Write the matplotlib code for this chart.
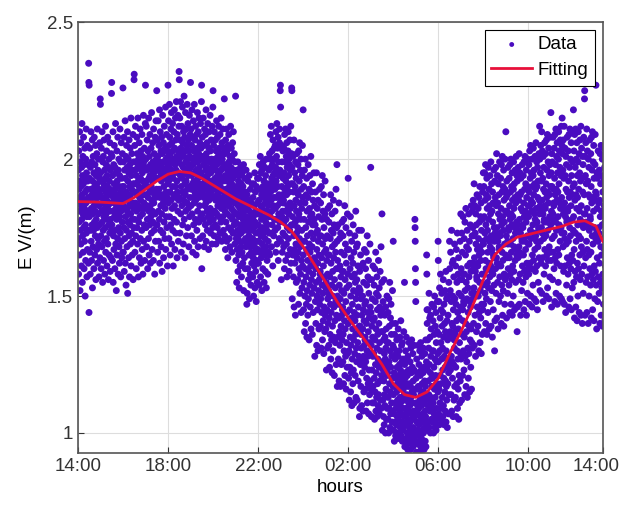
from matplotlib import pyplot as plt
from matplotlib.transforms import ScaledTranslation
import numpy as np

# Field values (V/m x 100), one row per half hour starting at 14:00
rows = [
	"184 171 196 158 203 189 177 165 192 210 181 152 199 186 174 206 169 190 183 161 197 178 213 187 155 194 172 201 180 166 191 208 175 185 160 198 182 170 204 193 150 188 176 163 200 184 211 173 195 179 157 189 205 167 192 181 174 198 186 162 235 228 144 227",
	"179 193 166 204 185 158 197 174 189 210 170 182 163 199 187 176 207 153 192 180 168 201 186 174 195 160 183 208 177 190 165 198 181 172 205 188 156 194 178 184 167 202 191 175 211 162 186 196 171 180 200 169 189 157 183 193 176 206 164 187 222 220",
	"195 172 186 160 204 181 192 168 210 177 189 155 199 184 174 201 163 191 179 207 186 170 196 158 182 193 175 212 166 188 180 198 171 203 185 161 194 178 190 208 169 183 197 156 187 176 200 165 192 181 173 206 189 159 196 178 184 164 202 174 224 228",
	"176 201 188 163 194 181 210 155 186 172 198 167 191 205 179 184 160 197 174 189 213 169 182 195 152 187 178 203 165 192 180 171 208 185 158 196 183 175 200 168 190 162 194 179 211 186 173 199 157 188 181 206 170 193 164 185 177 202 190 166 226",
	"183 166 199 190 175 208 159 187 196 171 182 214 162 193 179 201 154 188 174 205 185 168 197 181 210 151 192 177 200 186 164 195 172 207 183 157 190 198 176 204 169 187 180 215 161 194 173 189 202 178 165 196 184 170 209 156 191 182 199 175 229 231",
	"191 178 205 166 196 184 212 172 199 188 160 194 181 208 175 202 187 169 197 215 183 192 157 200 177 190 206 164 186 198 179 211 171 193 185 203 162 196 182 189 174 209 167 195 180 201 158 192 187 216 170 199 184 176 204 190 163 197 182 213 227",
	"187 200 175 212 192 168 196 183 207 178 190 160 203 186 197 171 215 181 193 165 201 188 176 209 194 183 162 198 179 204 190 173 217 185 196 167 192 181 206 177 199 188 163 211 184 195 174 202 187 158 197 180 208 170 193 186 214 176 200 189 225",
	"198 176 207 188 166 201 193 214 181 196 170 205 189 178 218 162 199 186 210 174 195 183 203 168 192 208 180 197 159 202 187 216 173 194 184 206 164 199 190 177 212 185 196 171 204 182 193 219 167 200 188 179 209 195 175 203 186 161 198 191 227",
	"201 184 214 192 171 205 197 220 179 208 188 165 202 194 176 211 185 199 217 169 196 206 182 190 213 174 203 193 161 200 187 210 178 195 218 183 204 167 198 190 215 173 207 186 196 221 177 201 192 164 209 188 199 181 216 195 170 203 185 212 232 229",
	"200 186 215 173 207 194 221 180 204 190 166 198 212 183 202 193 219 176 206 188 197 169 210 185 201 223 178 195 208 191 164 203 187 217 181 199 192 211 172 205 196 184 220 189 200 175 213 194 182 207 198 168 203 190 216 179 201 186 209 195 228",
	"197 183 211 189 172 205 194 218 180 200 191 166 208 186 198 214 176 203 192 184 220 170 199 188 207 195 178 212 185 201 165 196 190 209 174 204 187 217 181 199 193 168 210 186 202 177 215 191 197 183 206 171 200 189 213 179 195 204 187 221 227 160",
	"194 180 208 188 172 201 191 215 178 198 186 205 168 193 211 183 199 190 176 209 196 184 218 170 202 189 197 181 206 174 194 213 187 200 179 192 167 204 185 210 196 177 199 190 216 182 203 173 195 188 207 180 200 192 169 212 186 198 175 219 225",
	"191 178 205 186 197 172 210 189 181 200 193 176 207 185 196 169 203 190 214 180 198 187 175 208 194 183 201 171 192 212 188 179 204 195 184 199 173 209 190 186 202 177 196 215 182 193 170 206 189 200 185 211 179 197 192 174 204 188 198 183 222",
	"186 172 202 181 194 167 207 189 177 198 185 211 170 192 203 180 196 188 164 205 183 193 175 209 187 199 171 190 184 201 168 195 179 212 186 197 174 204 182 191 166 200 188 178 206 193 173 185 210 181 196 189 176 202 184 194 169 199 187 180 223",
	"177 163 190 171 184 155 196 180 167 188 174 199 159 183 172 192 165 179 186 153 194 170 182 176 161 189 197 168 185 173 191 157 180 187 166 195 175 183 162 190 178 170 198 152 186 174 181 164 193 177 185 160 188 171 182 168 196 179 175 184 147",
	"187 151 174 182 160 192 169 178 156 185 172 165 194 149 181 168 176 158 189 171 179 154 184 166 177 162 191 174 169 180 171 157 186 164 179 150 191 175 161 183 168 195 153 177 166 188 159 173 181 148 190 163 176 170 155 184 193 162 180 167",
	"176 162 193 170 185 154 198 180 166 189 174 201 157 183 172 195 164 178 187 152 196 169 182 175 160 190 199 167 186 173 192 155 179 188 165 197 171 184 159 194 177 168 200 153 187 174 181 163 191 176 185 158 189 170 183 166 196 179 173 186",
	"202 165 191 200 179 209 188 173 197 185 212 168 193 181 203 176 198 189 161 207 194 183 200 172 190 186 204 178 195 192 189 174 205 182 197 166 210 192 178 201 186 213 169 195 183 204 175 190 208 163 199 180 194 187 171 206 211 177 196 184 225 227 219",
	"170 195 186 156 205 190 179 199 166 187 181 203 173 193 184 185 168 204 177 195 160 209 189 172 199 181 211 163 192 178 201 169 187 206 157 197 175 190 183 165 203 210 171 194 180 200 159 188 198 174 207 184 167 196 182 212 162 191 176 202 226 225",
	"197 149 179 191 165 201 176 157 188 172 207 146 183 167 195 162 190 177 143 199 185 169 193 155 181 173 202 164 188 178 175 156 198 166 187 147 203 180 160 192 171 206 151 184 168 196 158 178 200 144 189 163 182 174 153 194 205 161 186 170 218",
	"165 145 190 155 178 137 196 170 150 184 160 200 140 175 157 187 147 167 193 135 181 152 172 163 143 186 198 149 177 159 189 134 169 182 154 194 166 146 179 161 201 138 173 156 188 151 180 168 136 191 176 158 185 144 171 162 195 153 178 164",
	"183 128 163 176 148 188 160 140 173 155 195 132 167 150 182 145 174 162 130 185 170 152 179 138 165 156 189 147 172 158 159 139 184 149 172 131 190 164 144 178 154 194 134 169 151 181 141 161 187 129 175 146 166 157 137 180 192 143 171 153",
	"138 167 155 123 178 163 145 172 131 158 149 182 140 165 151 152 132 177 142 165 124 183 157 136 171 147 187 127 162 144 174 134 154 180 122 168 139 159 150 130 173 185 135 164 146 176 121 156 169 141 181 153 133 166 148 189 125 160 143 175 198",
	"170 117 150 163 135 176 147 127 160 142 184 119 154 137 171 132 161 149 117 173 157 139 166 125 152 143 177 134 159 145 146 126 172 136 159 118 178 151 130 165 141 183 121 156 138 169 128 148 175 116 162 133 153 144 124 167 180 129 158 140 193",
	"140 120 167 130 154 112 173 145 124 160 135 179 115 150 132 164 122 142 170 110 157 127 147 138 118 162 176 123 152 134 166 111 144 158 129 172 141 121 155 136 181 113 149 131 168 126 156 143 112 169 151 133 161 119 146 137 174 128 153 139 106",
	"159 109 139 152 125 165 136 117 149 131 174 110 143 127 161 122 150 138 108 162 145 128 155 115 141 132 167 124 147 134 135 116 160 126 148 108 166 140 120 154 130 172 111 144 128 157 118 137 163 107 151 123 142 133 114 156 169 119 146 129 197",
	"116 144 132 106 156 139 123 149 111 135 128 161 117 141 129 129 111 154 120 142 105 160 134 115 148 125 166 108 138 122 151 113 131 157 106 145 118 136 127 110 150 163 114 140 124 153 107 133 146 119 159 130 112 143 126 168 109 137 121 155 180",
	"145 101 125 137 112 148 123 106 134 119 156 103 129 114 143 110 135 127 100 146 131 116 138 105 126 121 150 109 133 124 122 105 144 113 133 100 149 126 109 139 118 155 102 130 115 142 107 124 147 101 136 111 128 120 104 140 152 108 132 117 170",
	"114 101 131 107 122 97 136 117 104 127 111 140 99 120 109 129 103 115 134 98 124 106 118 112 100 128 138 105 121 110 130 98 116 125 108 135 113 102 123 111 141 99 119 107 132 104 126 117 97 133 121 109 127 101 116 113 137 106 122 114 155",
	"125 95 112 120 103 130 109 98 118 107 135 96 114 104 127 100 121 112 94 128 117 105 123 97 111 108 133 102 118 110 110 98 126 104 117 94 131 113 100 122 107 134 96 115 105 124 99 111 129 95 119 102 114 108 97 123 132 101 116 106 178 175 170 160 155 148",
	"99 120 111 93 127 116 104 122 96 110 107 132 101 117 109 109 97 125 103 116 93 130 112 99 121 106 133 95 114 104 123 98 110 128 94 118 101 113 107 96 122 131 100 115 105 124 94 111 119 102 129 108 97 117 106 134 95 113 103 126 165 158 145",
	"140 101 123 134 110 145 119 104 131 114 151 102 125 112 142 108 135 122 100 143 128 113 138 105 120 117 147 109 130 121 120 104 141 111 130 100 146 124 107 136 116 150 102 127 113 139 105 121 144 101 133 109 126 118 103 137 148 106 129 115 170 163",
	"126 107 148 116 136 103 153 130 111 142 121 158 105 133 118 145 109 127 151 104 139 113 131 123 106 144 156 110 135 120 147 103 128 140 115 152 124 108 137 119 159 104 130 117 149 112 141 127 102 150 134 118 143 107 125 122 155 114 136 126 170",
	"160 107 137 152 123 166 135 114 148 128 174 108 140 126 162 120 150 139 106 163 145 125 157 112 134 131 169 117 149 137 136 113 161 124 147 106 167 141 118 155 130 173 109 144 127 158 116 138 164 105 151 121 142 133 111 156 170 119 146 129 180",
	"127 160 150 112 173 156 136 166 121 145 141 179 130 158 148 147 123 171 135 158 114 177 152 128 165 140 182 117 155 137 168 126 149 174 113 161 131 153 144 120 167 180 129 157 139 170 115 148 162 134 176 146 124 159 138 183 116 151 133 172",
	"181 131 162 175 149 185 160 140 172 153 191 132 164 151 183 143 173 159 128 180 169 150 176 137 157 156 187 146 167 162 161 139 182 150 171 130 186 165 144 177 155 190 133 168 152 179 142 163 184 129 174 147 166 158 136 178 188 145 170 154 195",
	"169 147 190 158 179 137 195 173 151 185 163 198 140 176 160 187 149 171 193 136 182 155 174 166 144 186 197 153 178 162 189 138 170 183 157 194 168 148 180 161 199 139 172 159 191 152 181 167 135 188 177 158 184 145 165 164 196 154 175 170 130",
	"192 141 173 186 160 197 171 151 183 164 202 142 175 162 194 155 184 170 138 191 180 161 187 148 168 167 199 157 178 173 172 150 193 161 182 140 198 176 154 188 166 201 143 179 163 190 152 174 196 139 185 158 177 169 147 189 200 156 181 165 210",
	"157 186 172 142 192 181 164 187 151 170 169 197 160 180 175 174 154 193 164 183 144 198 178 158 188 169 200 147 180 166 190 156 176 195 143 185 161 179 171 150 189 199 159 182 168 191 145 175 186 163 196 173 155 184 167 201 146 177 165 194 137",
	"192 146 176 187 164 197 174 156 185 168 202 147 178 166 195 158 187 173 143 193 182 165 188 152 171 170 198 161 181 176 175 155 194 165 184 145 199 179 159 189 170 201 148 181 167 191 157 177 196 143 186 162 180 172 151 190 200 160 183 169",
	"179 158 198 169 188 147 203 183 162 193 174 205 150 185 171 195 160 181 200 146 190 165 184 176 154 194 204 163 187 173 196 149 180 191 167 201 178 159 189 172 206 148 182 170 199 161 190 177 145 197 186 168 192 155 175 174 202 164 185 180 212",
	"200 152 183 195 170 205 181 162 192 175 210 151 185 173 203 164 193 180 148 201 189 171 197 158 178 177 206 167 188 183 182 161 202 172 191 150 207 186 165 196 177 209 153 188 174 199 163 184 204 149 194 168 187 179 157 198 208 166 190 176 217",
	"163 195 181 146 202 190 171 199 156 178 180 208 166 189 184 183 160 204 172 193 148 209 187 164 198 177 211 151 189 174 201 162 185 206 147 195 167 188 179 155 200 210 165 191 176 203 150 184 197 170 207 182 161 194 175 212 149 186 173 205 215",
	"202 148 182 196 168 207 180 159 193 173 212 147 184 171 204 161 194 179 144 201 189 169 198 154 177 178 208 164 188 182 181 158 203 170 192 146 209 186 162 197 175 211 149 188 172 200 160 183 206 145 194 165 187 178 153 199 210 163 190 174 218",
	"179 155 203 167 191 142 209 185 159 197 173 211 146 187 170 200 157 182 206 141 194 162 186 176 150 199 210 160 189 172 202 144 181 195 165 207 178 156 192 171 212 143 183 168 204 158 193 177 140 201 188 166 198 151 175 176 208 161 187 180 222 225",
	"201 143 180 194 164 206 177 155 191 170 211 144 182 167 203 157 192 176 140 200 187 165 197 150 174 175 207 160 186 179 178 154 202 166 190 142 208 184 158 196 172 210 145 186 169 199 156 181 205 141 193 161 185 175 149 198 209 159 188 171 227",
	"154 187 173 138 195 182 164 193 148 170 171 203 157 184 175 173 151 196 162 185 140 202 179 155 191 168 205 143 181 165 194 153 176 200 139 188 158 180 171 147 192 204 156 183 167 197 141 177 189 161 201 172 152 186 166 206 142 178 163 198",
]

# Fitted curve (hours after 14:00, V/m)
fit_hours = [0, 1, 2, 2.5, 3, 3.5, 4, 4.5, 5, 5.5, 6, 6.5, 7, 7.5, 8, 8.5, 9, 9.5,
	10, 10.5, 11, 11.5, 12, 12.5, 13, 13.5, 14, 14.5, 15, 15.5, 16, 16.5, 17, 17.5,
	18, 18.5, 19, 19.5, 20, 20.5, 21, 21.5, 22, 22.5, 23, 23.3]
fit_values = [1.845, 1.843, 1.838, 1.86, 1.89, 1.92, 1.945, 1.955, 1.95, 1.93, 1.905,
	1.88, 1.855, 1.835, 1.815, 1.795, 1.77, 1.735, 1.68, 1.615, 1.55, 1.48, 1.42,
	1.365, 1.31, 1.25, 1.18, 1.14, 1.13, 1.15, 1.20, 1.29, 1.37, 1.46, 1.56, 1.65,
	1.69, 1.715, 1.725, 1.735, 1.745, 1.755, 1.77, 1.775, 1.755, 1.70]

tick_hours = [0, 4, 8, 12, 16, 20, 23.3]
tick_labels = ["14:00", "18:00", "22:00", "02:00", "06:00", "10:00", "14:00"]

plt.rcParams['font.family'] = ['Liberation Sans', 'DejaVu Sans']

# Sample times: evenly spaced inside each half hour
x, y = [], []
for k, row in enumerate(rows):
	v = np.array(row.split(), dtype=float) / 100
	n = len(v)
	x.extend(0.5 * k + 0.5 * (np.arange(n) + 0.5) / n)
	y.extend(v)

fig = plt.figure(figsize=(6.24, 5.05), dpi=100)
ax = fig.add_axes([0.125, 0.103, 0.841, 0.853])

ax.scatter(x, y, s=25, c='#4a0cc0', edgecolor='none', label='Data', zorder=2)
ax.plot(fit_hours, fit_values, color='#e8103a', lw=2.0, label='Fitting', zorder=3)

ax.set_xlim(0, 23.3)
ax.set_ylim(0.927, 2.5)
ax.set_xticks(tick_hours)
ax.set_xticklabels(tick_labels)
ax.set_yticks([1, 1.5, 2, 2.5])
ax.set_yticklabels(["1", "1.5", "2", "2.5"])
ax.tick_params(direction='in', labelsize=13.5, length=4, colors='#333333')
ax.grid(True, color='#dddddd', lw=0.8, zorder=0)
ax.set_axisbelow(True)
for s in ax.spines.values():
	s.set_color('#555555')
	s.set_linewidth(1.2)

# The last "14:00" sits a little left of its tick, as in the original
last = ax.get_xticklabels()[-1]
last.set_transform(last.get_transform() + ScaledTranslation(-5/72, 0, fig.dpi_scale_trans))

ax.set_xlabel("hours", fontsize=13.5, labelpad=3)
ax.set_ylabel("E V/(m)", fontsize=13.5, labelpad=8)

leg = ax.legend(loc='upper right', fontsize=13.5, fancybox=False, edgecolor='black',
	framealpha=1, handlelength=2.2, handletextpad=0.3, borderpad=0.35,
	labelspacing=0.45, borderaxespad=0.4, markerscale=0.7)
leg.get_frame().set_linewidth(0.8)

plt.savefig('out.png', dpi=100)
